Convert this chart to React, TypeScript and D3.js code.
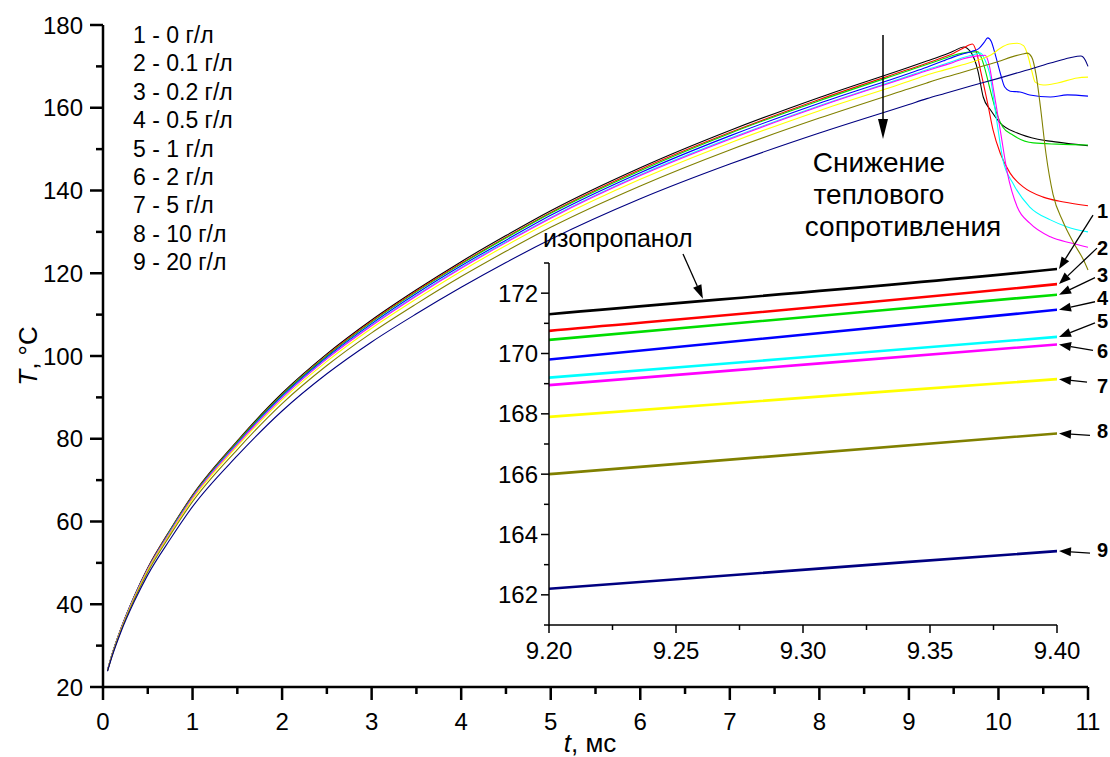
import React from "react";
import * as d3 from "d3";

// Heating curves T(t) of a probe in isopropanol suspensions of different concentration
const riseTime = [0.05, 0.1, 0.2, 0.35, 0.5, 0.75, 1, 1.5, 2, 2.5, 3, 3.5, 4, 4.5, 5, 6, 7, 8, 9, 9.2, 9.4];

const rise1 = [24.0, 27.8, 34.1, 42.0, 48.8, 58.0, 66.4, 79.5, 91.0, 100.5, 108.7, 116.0, 122.8, 129.1, 135.1, 145.5, 154.5, 162.5, 169.8, 171.3, 172.8];
const tailT1 = [9.5, 9.61, 9.69, 9.77, 9.83, 9.91, 10.02, 10.21, 10.44, 10.66, 11.0];
const tailV1 = [173.7, 174.7, 173.5, 169.0, 162.6, 159.5, 156.3, 153.9, 152.4, 151.7, 150.8];

const rise2 = [24.0, 27.8, 34.1, 41.9, 48.7, 57.9, 66.2, 79.3, 90.7, 100.2, 108.4, 115.7, 122.4, 128.7, 134.7, 145.1, 154.0, 162.0, 169.3, 170.75, 172.3];
const tailT2 = [9.5, 9.6, 9.71, 9.76, 9.8, 9.88, 9.94, 10.02, 10.13, 10.28, 10.5, 10.73, 11.0];
const tailV2 = [173.2, 174.3, 175.4, 173.0, 169.0, 161.0, 154.6, 149.0, 144.2, 140.8, 138.4, 137.2, 136.3];

const rise3 = [24.0, 27.8, 34.0, 41.9, 48.6, 57.8, 66.1, 79.2, 90.6, 100.0, 108.2, 115.5, 122.2, 128.5, 134.5, 144.8, 153.8, 161.7, 169.0, 170.45, 171.95];
const tailT3 = [9.5, 9.6, 9.7, 9.77, 9.83, 9.9, 9.98, 10.05, 10.16, 10.39, 10.66, 11.0];
const tailV3 = [172.7, 173.2, 173.5, 173.5, 170.8, 165.0, 158.7, 155.3, 153.4, 151.5, 151.2, 151.0];

const rise4 = [24.0, 27.7, 34.0, 41.8, 48.5, 57.6, 65.9, 78.9, 90.3, 99.7, 107.8, 115.1, 121.8, 128.0, 134.0, 144.3, 153.2, 161.1, 168.3, 169.8, 171.45];
const tailT4 = [9.5, 9.6, 9.7, 9.78, 9.84, 9.88, 9.92, 9.96, 10.02, 10.07, 10.13, 10.24, 10.35, 10.58, 10.77, 11.0];
const tailV4 = [172.3, 173.0, 173.6, 174.3, 175.8, 176.9, 176.0, 173.2, 168.4, 165.0, 164.0, 163.8, 163.1, 162.6, 163.1, 162.8];

const rise5 = [24.0, 27.7, 33.9, 41.7, 48.4, 57.5, 65.8, 78.7, 90.0, 99.4, 107.5, 114.7, 121.4, 127.6, 133.5, 143.8, 152.6, 160.5, 167.7, 169.2, 170.55];
const tailT5 = [9.5, 9.6, 9.7, 9.8, 9.85, 9.9, 9.98, 10.05, 10.16, 10.35, 10.58, 10.77, 11.0];
const tailV5 = [171.3, 172.1, 172.7, 173.2, 171.5, 168.4, 157.0, 147.4, 141.8, 136.0, 132.9, 131.2, 130.0];

const rise6 = [24.0, 27.7, 33.9, 41.7, 48.4, 57.4, 65.7, 78.6, 89.9, 99.3, 107.3, 114.5, 121.2, 127.4, 133.3, 143.6, 152.4, 160.3, 167.5, 168.95, 170.3];
const tailT6 = [9.5, 9.6, 9.7, 9.8, 9.85, 9.9, 9.94, 10.02, 10.1, 10.21, 10.35, 10.58, 10.81, 11.0];
const tailV6 = [171.0, 171.8, 172.3, 172.6, 172.7, 170.0, 165.0, 154.6, 144.2, 136.0, 132.1, 128.8, 127.3, 126.3];

const rise7 = [23.9, 27.6, 33.8, 41.5, 48.2, 57.1, 65.4, 78.2, 89.4, 98.7, 106.7, 113.8, 120.5, 126.7, 132.5, 142.7, 151.5, 159.3, 166.4, 167.9, 169.15];
const tailT7 = [9.6, 9.8, 9.92, 10.02, 10.12, 10.21, 10.28, 10.33, 10.37, 10.41, 10.5, 10.66, 10.88, 11.0];
const tailV7 = [170.4, 171.7, 172.8, 174.4, 175.4, 175.6, 175.0, 172.5, 169.1, 166.2, 165.5, 166.0, 167.2, 167.4];

const rise8 = [23.9, 27.5, 33.6, 41.2, 47.8, 56.7, 64.8, 77.4, 88.5, 97.7, 105.6, 112.6, 119.2, 125.3, 131.1, 141.1, 149.8, 157.5, 164.6, 166.0, 167.35];
const tailT8 = [9.6, 9.8, 10.0, 10.15, 10.27, 10.32, 10.37, 10.42, 10.47, 10.53, 10.61, 10.72, 10.84, 10.95, 11.0];
const tailV8 = [168.6, 169.9, 171.2, 172.3, 173.0, 173.2, 172.3, 168.0, 160.0, 149.0, 139.0, 132.5, 127.3, 123.2, 120.8];

const rise9 = [23.8, 27.3, 33.3, 40.7, 47.1, 55.7, 63.6, 75.9, 86.7, 95.7, 103.4, 110.2, 116.6, 122.6, 128.2, 138.0, 146.4, 153.9, 160.8, 162.2, 163.45];
const tailT9 = [9.7, 10.0, 10.3, 10.58, 10.8, 10.92, 10.97, 11.0];
const tailV9 = [165.3, 167.1, 169.0, 170.8, 172.1, 172.5, 171.5, 170.0];

const seriesColors = ["#000000", "#ff0000", "#00dd00", "#0000ff", "#00ffff", "#ff00ff", "#ffff00", "#808000", "#000080"];
const legendLabels = ["1 - 0 г/л", "2 - 0.1 г/л", "3 - 0.2 г/л", "4 - 0.5 г/л", "5 - 1 г/л", "6 - 2 г/л", "7 - 5 г/л", "8 - 10 г/л", "9 - 20 г/л"];
const noteLines = ["Снижение", "теплового", "сопротивления"];

const xTicks = [0, 1, 2, 3, 4, 5, 6, 7, 8, 9, 10, 11];
const yTicks = [20, 40, 60, 80, 100, 120, 140, 160, 180];
const insetXTicks = [9.2, 9.25, 9.3, 9.35, 9.4];
const insetYTicks = [162, 164, 166, 168, 170, 172];

const FONT = "'Liberation Sans', Arial, Helvetica, sans-serif";

type Pt = [number, number];
const join = (rise: number[], tt: number[], tv: number[]): Pt[] => [
  ...riseTime.map((t, i) => [t, rise[i]] as Pt),
  ...tt.map((t, i) => [t, tv[i]] as Pt),
];

const series: Pt[][] = [
  join(rise1, tailT1, tailV1),
  join(rise2, tailT2, tailV2),
  join(rise3, tailT3, tailV3),
  join(rise4, tailT4, tailV4),
  join(rise5, tailT5, tailV5),
  join(rise6, tailT6, tailV6),
  join(rise7, tailT7, tailV7),
  join(rise8, tailT8, tailV8),
  join(rise9, tailT9, tailV9),
];

// Pixel offsets of the numbered callouts relative to the end of each inset line
const calloutTail: Pt[] = [
  [34, -54], [38, -36], [36, -17], [36, -8], [36, -14], [34, 6], [28, 3], [31, 2], [31, 2],
];
const calloutTextDy = [-51, -29, -13, -5, -9, 14, 14, 5, 6];

function Arrow({ x1, y1, x2, y2, len = 12, half = 4.5, w = 1.3 }: { x1: number; y1: number; x2: number; y2: number; len?: number; half?: number; w?: number }) {
  const a = Math.atan2(y2 - y1, x2 - x1);
  const bx = x2 - len * Math.cos(a);
  const by = y2 - len * Math.sin(a);
  const px = -Math.sin(a) * half;
  const py = Math.cos(a) * half;
  return (
    <g>
      <line x1={x1} y1={y1} x2={bx} y2={by} stroke="#000" strokeWidth={w} />
      <polygon points={`${x2},${y2} ${bx + px},${by + py} ${bx - px},${by - py}`} fill="#000" />
    </g>
  );
}

export default function App() {
  const x = d3.scaleLinear().domain([0, 11]).range([103, 1088]);
  const y = d3.scaleLinear().domain([20, 180]).range([687, 25]);
  const xi = d3.scaleLinear().domain([9.2, 9.4]).range([549, 1057]);
  const yi = d3.scaleLinear().domain([161, 173]).range([625, 263]);

  const mainLine = d3.line<Pt>().x((d) => x(d[0])).y((d) => y(d[1])).curve(d3.curveMonotoneX);
  const insetLine = d3.line<Pt>().x((d) => xi(d[0])).y((d) => yi(d[1])).curve(d3.curveMonotoneX);

  const x0 = x.range()[0];
  const y0 = y.range()[0];
  const xMinor = d3.range(0.5, 11, 1);
  const yMinor = d3.range(30, 180, 20);
  const xiMinor = [9.225, 9.275, 9.325, 9.375];
  const yiMinor = [161, 163, 165, 167, 169, 171, 173];
  const xiL = xi.range()[0];
  const yiB = yi.range()[0];
  const tEnd = 9.4;

  const endValue = (s: Pt[]) => s[s.findIndex((p) => p[0] === tEnd)][1];

  return (
    <svg width={1110} height={757} style={{ position: "absolute", left: 0, top: 0, background: "#fff" }} fontFamily={FONT}>
      <defs>
        <clipPath id="insetClip">
          <rect x={xiL} y={yi.range()[1]} width={xi.range()[1] - xiL} height={yiB - yi.range()[1]} />
        </clipPath>
      </defs>

      {/* main curves */}
      {series.map((s, i) => (
        <path key={i} d={mainLine(s) ?? ""} fill="none" stroke={seriesColors[i]} strokeWidth={1.1} />
      ))}

      {/* main axes */}
      <line x1={x0} y1={y0} x2={x.range()[1]} y2={y0} stroke="#000" strokeWidth={2.5} />
      <line x1={x0} y1={y0 + 1.2} x2={x0} y2={y.range()[1]} stroke="#000" strokeWidth={2.5} />
      {xTicks.map((t) => (
        <g key={t}>
          <line x1={x(t)} y1={y0} x2={x(t)} y2={y0 + 13} stroke="#000" strokeWidth={2.5} />
          <text x={x(t)} y={y0 + 43} textAnchor="middle" fontSize={24}>{t}</text>
        </g>
      ))}
      {xMinor.map((t) => (
        <line key={t} x1={x(t)} y1={y0} x2={x(t)} y2={y0 + 7} stroke="#000" strokeWidth={2.5} />
      ))}
      {yTicks.map((v) => (
        <g key={v}>
          <line x1={x0 - 13} y1={y(v)} x2={x0} y2={y(v)} stroke="#000" strokeWidth={2.5} />
          <text x={x0 - 20} y={y(v) + 8.5} textAnchor="end" fontSize={24}>{v}</text>
        </g>
      ))}
      {yMinor.map((v) => (
        <line key={v} x1={x0 - 7} y1={y(v)} x2={x0} y2={y(v)} stroke="#000" strokeWidth={2.5} />
      ))}

      <text transform={`translate(37,356) rotate(-90)`} textAnchor="middle" fontSize={26}>
        <tspan fontStyle="italic">T</tspan>, °C
      </text>
      <text x={590} y={752} textAnchor="middle" fontSize={26}>
        <tspan fontStyle="italic">t</tspan>, мс
      </text>

      {/* legend */}
      {legendLabels.map((l, i) => (
        <text key={l} x={133} y={43 + i * 28.4} fontSize={23}>{l}</text>
      ))}

      {/* annotation */}
      <Arrow x1={883} y1={35} x2={883} y2={139} len={20} half={5} w={1.5} />
      {noteLines.map((s, i) => (
        <text key={s} x={i === 2 ? 903 : 879} y={172 + i * 32} textAnchor="middle" fontSize={28}>{s}</text>
      ))}

      {/* inset */}
      <g clipPath="url(#insetClip)">
        {series.map((s, i) => (
          <path key={i} d={insetLine(s) ?? ""} fill="none" stroke={seriesColors[i]} strokeWidth={2.6} />
        ))}
      </g>
      <line x1={xiL} y1={yiB} x2={xi.range()[1]} y2={yiB} stroke="#000" strokeWidth={1.5} />
      <line x1={xiL} y1={yiB + 0.7} x2={xiL} y2={yi.range()[1]} stroke="#000" strokeWidth={1.5} />
      {insetXTicks.map((t) => (
        <g key={t}>
          <line x1={xi(t)} y1={yiB} x2={xi(t)} y2={yiB + 8} stroke="#000" strokeWidth={1.5} />
          <text x={xi(t)} y={yiB + 34} textAnchor="middle" fontSize={24}>{t.toFixed(2)}</text>
        </g>
      ))}
      {xiMinor.map((t) => (
        <line key={t} x1={xi(t)} y1={yiB} x2={xi(t)} y2={yiB + 5} stroke="#000" strokeWidth={1.5} />
      ))}
      {insetYTicks.map((v) => (
        <g key={v}>
          <line x1={xiL - 8} y1={yi(v)} x2={xiL} y2={yi(v)} stroke="#000" strokeWidth={1.5} />
          <text x={xiL - 11} y={yi(v) + 8.5} textAnchor="end" fontSize={24}>{v}</text>
        </g>
      ))}
      {yiMinor.map((v) => (
        <line key={v} x1={xiL - 5} y1={yi(v)} x2={xiL} y2={yi(v)} stroke="#000" strokeWidth={1.5} />
      ))}

      {/* isopropanol label */}
      <text x={543} y={247} fontSize={25}>изопропанол</text>
      <Arrow x1={683} y1={254} x2={xi(9.2606)} y2={yi(171.78) - 1} len={14} half={4.5} w={1.3} />

      {/* numbered callouts */}
      {series.map((s, i) => {
        const ex = xi(tEnd) + 2;
        const ey = yi(endValue(s));
        return (
          <g key={i}>
            <Arrow x1={ex + calloutTail[i][0]} y1={ey + calloutTail[i][1]} x2={ex} y2={ey} />
            <text x={1097} y={ey + calloutTextDy[i]} fontSize={20} fontWeight="bold">{i + 1}</text>
          </g>
        );
      })}
    </svg>
  );
}
